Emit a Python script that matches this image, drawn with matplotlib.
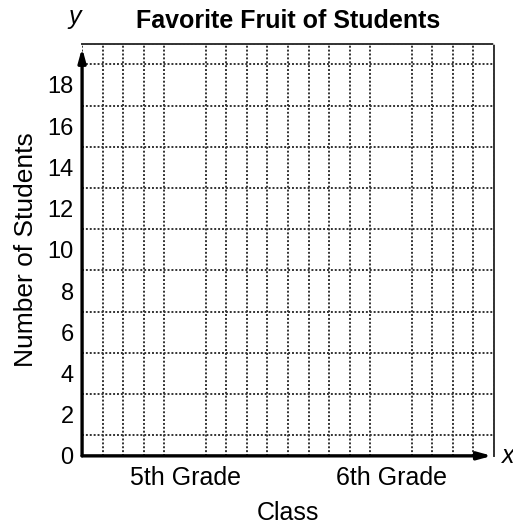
import matplotlib.pyplot as plt
import numpy as np

plt.rcParams['font.family'] = ['Liberation Sans', 'DejaVu Sans']

# chart data (empty graph template)
title = 'Favorite Fruit of Students'
categories = ['5th Grade', '6th Grade']
category_pos = [5, 15]
y_ticks = [0, 2, 4, 6, 8, 10, 12, 14, 16, 18]
y_max = 20
x_max = 20

fig = plt.figure(figsize=(5.13, 5.27), dpi=100)
ax = fig.add_axes([0.160, 0.135, 0.803, 0.782])
ax.set_xlim(0, x_max)
ax.set_ylim(0, y_max)

# dotted grid every unit
ax.set_xticks(np.arange(0, x_max + 1, 1), minor=True)
ax.set_yticks(np.arange(0, y_max + 1, 1), minor=True)
ax.grid(which='minor', color='#333333', linestyle=(0, (1, 1)), linewidth=1.4)
ax.tick_params(which='minor', length=0)

ax.set_yticks(y_ticks)
ax.set_xticks(category_pos)
ax.set_xticklabels(categories)
ax.tick_params(which='major', length=0, labelsize=17, pad=6)
ax.tick_params(axis='x', labelsize=18, pad=7)

for s in ['top', 'right']:
    ax.spines[s].set_linestyle((0, (1, 1)))
    ax.spines[s].set_color('#333333')
    ax.spines[s].set_linewidth(1.4)
for s in ['left', 'bottom']:
    ax.spines[s].set_visible(False)

# axis arrows
ax.annotate('', xy=(0, 0.99), xytext=(0, 0), xycoords='axes fraction',
            arrowprops=dict(arrowstyle='-|>,head_length=0.8,head_width=0.22',
                            color='black', lw=2.4, shrinkA=0, shrinkB=0),
            annotation_clip=False)
ax.annotate('', xy=(0.995, 0), xytext=(0, 0), xycoords='axes fraction',
            arrowprops=dict(arrowstyle='-|>,head_length=0.8,head_width=0.22',
                            color='black', lw=2.4, shrinkA=0, shrinkB=0),
            annotation_clip=False)

ax.text(-0.017, 1.035, 'y', transform=ax.transAxes, fontsize=18, style='italic',
        ha='center', va='bottom')
ax.text(1.019, 0.0, 'x', transform=ax.transAxes, fontsize=18, style='italic',
        ha='left', va='center')

ax.set_title(title, fontsize=18, fontweight='bold', pad=11, x=0.5)
ax.set_xlabel('Class', fontsize=18, labelpad=8)
ax.set_ylabel('Number of Students', fontsize=19, labelpad=7)

fig.savefig('out.png', dpi=100)
